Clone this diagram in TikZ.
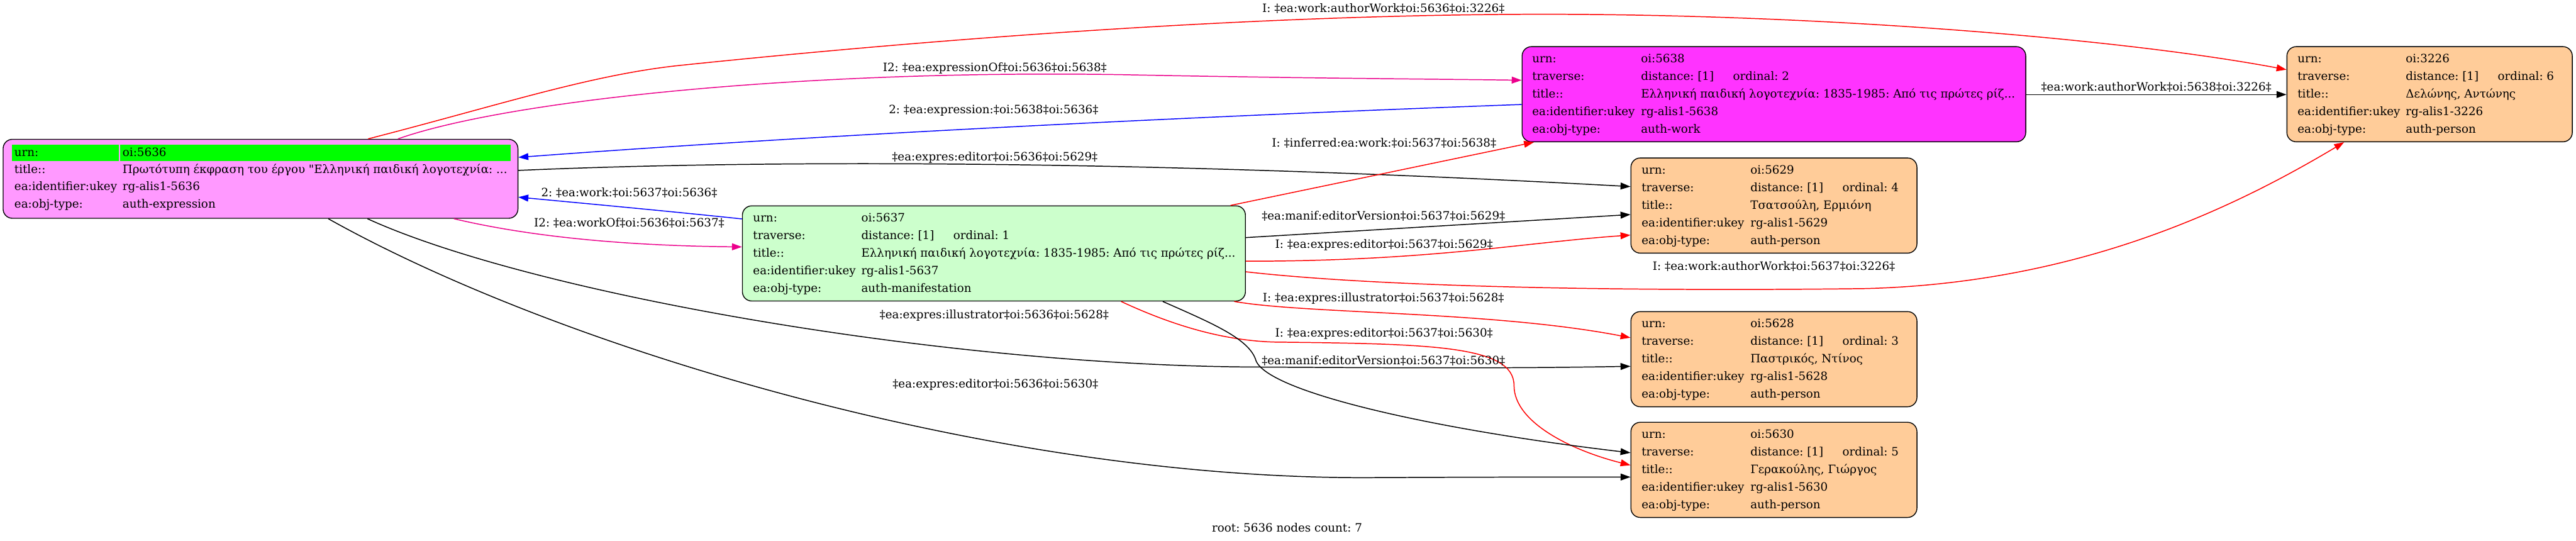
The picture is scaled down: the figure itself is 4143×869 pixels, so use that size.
\documentclass[tikz,border=0pt]{standalone}
\usepackage{fontspec}
\setmainfont{DejaVu Serif}[Ligatures=TeXOff]
\usetikzlibrary{arrows.meta}
\definecolor{cRoot}{HTML}{FF99FF}
\definecolor{cWork}{HTML}{FF33FF}
\definecolor{cManif}{HTML}{CCFFCC}
\definecolor{cPers}{HTML}{FFCC99}
\definecolor{cHi}{HTML}{00FF00}
\frenchspacing
\newcommand\fivebox[9]{%
  \node[txt] (#1-k1) at (#2,#4+25.5) {urn:};
  \node[txt] (#1-v1) at (#3,#4+25.5) {#5};
  \node[txt] (#1-k2) at (#2,#4+53.8) {traverse:};
  \node[txt] (#1-v2) at (#3,#4+53.8) {distance: [1]};
  \node[txt] (#1-o2) at (#3+148,#4+53.8) {ordinal: #6};
  \node[txt] (#1-k3) at (#2,#4+82.1) {title::};
  \node[txt] (#1-v3) at (#3,#4+82.1) {#7};
  \node[txt] (#1-k4) at (#2,#4+110.4) {ea:identifier:ukey};
  \node[txt] (#1-v4) at (#3,#4+110.4) {#8};
  \node[txt] (#1-k5) at (#2,#4+138.7) {ea:obj-type:};
  \node[txt] (#1-v5) at (#3,#4+138.7) {#9};
}
\begin{document}
\begin{tikzpicture}[x=1pt,y=-1pt,
  box/.style={draw=black, line width=1.4pt, rounded corners=15pt, inner sep=0pt, rectangle},
  txt/.style={font=\fontsize{18.5}{22}\selectfont\frenchspacing, inner sep=0pt, anchor=base west},
  lbl/.style={font=\fontsize{18.5}{22}\selectfont\frenchspacing, inner sep=0pt, anchor=center},
  conn/.style={line width=1.5pt, -{Triangle[length=16pt,width=11pt]}},
]
\useasboundingbox[fill=white] (0,0) rectangle (4143,869);

% ---- boxes
\node[box, fill=cRoot, minimum width=828pt, minimum height=127pt] (root) at (419,287.5) {};
\node[box, fill=cManif, minimum width=809pt, minimum height=153pt] (n5637) at (1598.5,407.5) {};
\node[box, fill=cWork, minimum width=810pt, minimum height=153pt] (n5638) at (2853,151.5) {};
\node[box, fill=cPers, minimum width=459pt, minimum height=153pt] (n3226) at (3907.5,151.5) {};
\node[box, fill=cPers, minimum width=460pt, minimum height=153pt] (n5629) at (2853,330.5) {};
\node[box, fill=cPers, minimum width=460pt, minimum height=153pt] (n5628) at (2853,577.5) {};
\node[box, fill=cPers, minimum width=460pt, minimum height=153pt] (n5630) at (2853,755.5) {};

% ---- root contents
\fill[cHi] (19,233) rectangle (191,259);
\fill[cHi] (193.5,233) rectangle (821,259);
\node[txt] (root-k1) at (23,251) {urn:};
\node[txt] (root-v1) at (197,251) {oi:5636};
\node[txt] (root-k2) at (23,278.7) {title::};
\node[txt] (root-v2) at (197,278.7) {Πρωτότυπη έκφραση του έργου "Ελληνική παιδική λογοτεχνία: ...};
\node[txt] (root-k3) at (23,306.3) {ea:identifier:ukey};
\node[txt] (root-v3) at (197,306.3) {rg-alis1-5636};
\node[txt] (root-k4) at (23,334) {ea:obj-type:};
\node[txt] (root-v4) at (197,334) {auth-expression};

% ---- other contents
\fivebox{t5637}{1211}{1385}{331}{oi:5637}{1}{Ελληνική παιδική λογοτεχνία: 1835-1985: Από τις πρώτες ρίζ...}{rg-alis1-5637}{auth-manifestation}
\fivebox{t5638}{2464}{2639}{75}{oi:5638}{2}{Ελληνική παιδική λογοτεχνία: 1835-1985: Από τις πρώτες ρίζ...}{rg-alis1-5638}{auth-work}
\fivebox{t3226}{3695}{3869}{75}{oi:3226}{6}{Δελώνης, Αντώνης}{rg-alis1-3226}{auth-person}
\fivebox{t5629}{2640}{2815}{254}{oi:5629}{4}{Τσατσούλη, Ερμιόνη}{rg-alis1-5629}{auth-person}
\fivebox{t5628}{2640}{2815}{501}{oi:5628}{3}{Παστρικός, Ντίνος}{rg-alis1-5628}{auth-person}
\fivebox{t5630}{2640}{2815}{679}{oi:5630}{5}{Γερακούλης, Γιώργος}{rg-alis1-5630}{auth-person}

% ---- connectors
\draw[conn, red] (root.north -| 592,0) .. controls (800,170) and (950,120) .. (1095,105)
   .. controls (1500,63) and (2000,25) .. (2450,23)
   .. controls (2900,21) and (3400,60) .. (n3226.west |- 0,112);
\draw[conn, magenta] (root.north -| 640,0) .. controls (820,160) and (1300,112) .. (1800,120)
   .. controls (2100,126) and (2300,127) .. (n5638.west |- 0,129);
\draw[conn, blue] (n5638.west |- 0,168) .. controls (1900,188) and (1300,218) .. (root.east |- 0,253);
\draw[conn, black] (root.east |- 0,274) .. controls (1200,258) and (1800,255) .. (n5629.west |- 0,300);
\draw[conn, blue] (n5637.west |- 0,352) .. controls (1080,340) and (950,328) .. (root.east |- 0,317);
\draw[conn, magenta] (root.south -| 730,0) .. controls (850,380) and (1000,395) .. (n5637.west |- 0,397);
\draw[conn, black] (root.south -| 591,0) .. controls (850,470) and (1500,585) .. (2000,590)
   .. controls (2300,592) and (2450,592) .. (n5628.west |- 0,589);
\draw[conn, black] (root.south -| 528,0) .. controls (900,560) and (1600,770) .. (2200,768)
   .. controls (2400,767) and (2500,767) .. (n5630.west |- 0,767);
\draw[conn, red] (n5637.north -| 1979,0) -- (n5638.south -| 2467,0);
\draw[conn, black] (n5637.east |- 0,382) -- (n5629.west |- 0,345);
\draw[conn, red] (n5637.east |- 0,420) .. controls (2300,420) and (2450,390) .. (n5629.west |- 0,378);
\draw[conn, red] (n5637.east |- 0,437) .. controls (2250,465) and (2700,468) .. (3000,464)
   .. controls (3350,455) and (3600,330) .. (n3226.south -| 3770,0);
\draw[conn, red] (n5637.south -| 1985,0) .. controls (2100,505) and (2400,500) .. (n5628.west |- 0,543);
\draw[conn, red] (n5637.south -| 1803,0) .. controls (1900,530) and (1980,548) .. (2050,550)
   .. controls (2300,553) and (2435,555) .. (2435,620)
   .. controls (2435,680) and (2530,725) .. (n5630.west |- 0,748);
\draw[conn, black] (n5637.south -| 1870,0) .. controls (1950,520) and (2010,545) .. (2020,580)
   .. controls (2040,630) and (2300,690) .. (n5630.west |- 0,728);
\draw[conn, black] (n5638.east |- 0,152) -- (n3226.west |- 0,152);

% ---- labels
\node[lbl] (l1) at (2225,14) {I: ‡ea:work:authorWork‡oi:5636‡oi:3226‡};
\node[lbl] (l2) at (1600,110) {I2: ‡ea:expressionOf‡oi:5636‡oi:5638‡};
\node[lbl] (l3) at (1598,178) {2: ‡ea:expression:‡oi:5638‡oi:5636‡};
\node[lbl] (l4) at (1600,253) {‡ea:expres:editor‡oi:5636‡oi:5629‡};
\node[lbl] (l5) at (1012,310) {2: ‡ea:work:‡oi:5637‡oi:5636‡};
\node[lbl] (l6) at (1012,358) {I2: ‡ea:workOf‡oi:5636‡oi:5637‡};
\node[lbl] (l7) at (1599,507) {‡ea:expres:illustrator‡oi:5636‡oi:5628‡};
\node[lbl] (l8) at (1601,618) {‡ea:expres:editor‡oi:5636‡oi:5630‡};
\node[lbl] (l9) at (2226,230) {I: ‡inferred:ea:work:‡oi:5637‡oi:5638‡};
\node[lbl] (l10) at (2225,347) {‡ea:manif:editorVersion‡oi:5637‡oi:5629‡};
\node[lbl] (l11) at (2226,394) {I: ‡ea:expres:editor‡oi:5637‡oi:5629‡};
\node[lbl] (l12) at (2853,428) {I: ‡ea:work:authorWork‡oi:5637‡oi:3226‡};
\node[lbl] (l13) at (2225,480) {I: ‡ea:expres:illustrator‡oi:5637‡oi:5628‡};
\node[lbl] (l14) at (2226,537) {I: ‡ea:expres:editor‡oi:5637‡oi:5630‡};
\node[lbl] (l15) at (2225,580) {‡ea:manif:editorVersion‡oi:5637‡oi:5630‡};
\node[lbl] (l16) at (3468,140) {‡ea:work:authorWork‡oi:5638‡oi:3226‡};
\node[lbl] (foot) at (2070,848) {root: 5636 nodes count: 7};
\end{tikzpicture}
\end{document}
